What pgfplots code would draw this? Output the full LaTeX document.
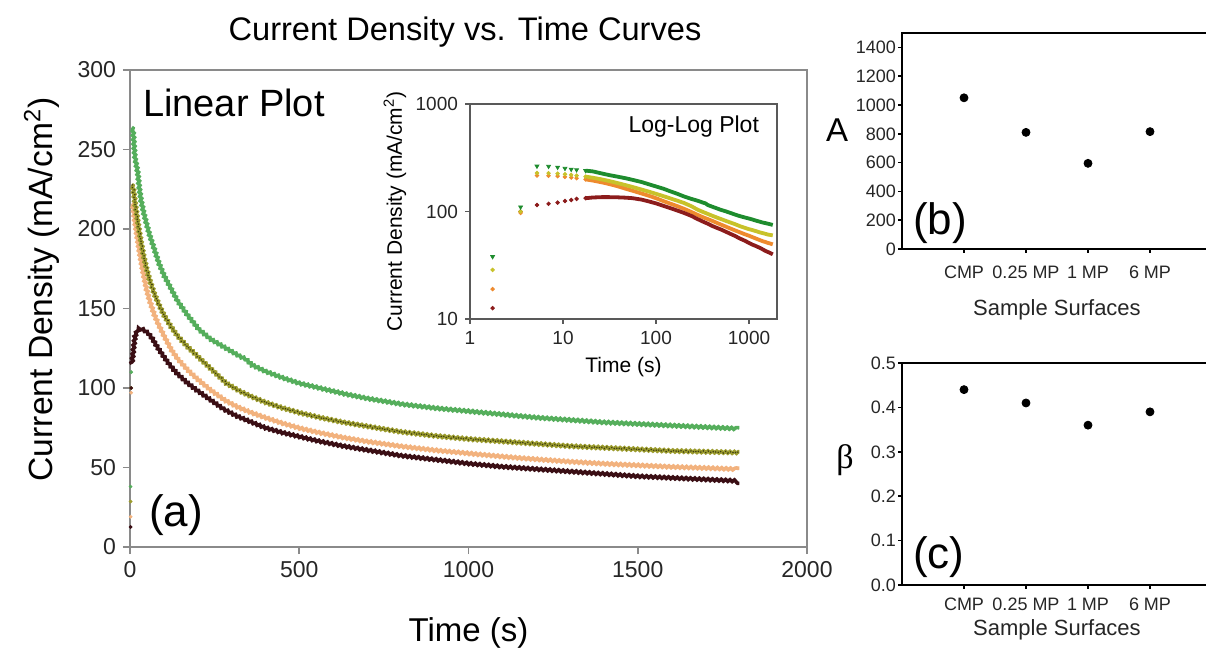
\documentclass[border=0pt]{standalone}
\usepackage{pgfplots}
\pgfplotsset{compat=1.18}
\usepackage{pgfplotstable}
\usepackage{fontspec}
\setmainfont{Liberation Sans}
\newfontfamily\seriffont{Liberation Serif}
\usetikzlibrary{decorations.pathmorphing}

\definecolor{linG}{HTML}{55AE5C}
\definecolor{linY}{HTML}{9C9C2E}
\definecolor{linYd}{HTML}{3C3C12}
\definecolor{linO}{HTML}{F2B27E}
\definecolor{linR}{HTML}{3A0E14}
\definecolor{logG}{HTML}{1E8C2E}
\definecolor{logY}{HTML}{C8C22A}
\definecolor{logO}{HTML}{EE8A2E}
\definecolor{logR}{HTML}{8C1C1C}
\definecolor{framegray}{HTML}{8A8A8A}

\pgfplotstableread{
t v
1.75 38
3.5 110
5.25 264
7 263
8.75 258
10.5 252
12.25 247
14 244
17.5 240
21 236
26 226
31.5 218
38.5 211
47 204
56 197
70 188
84 179
100 171
120 163
140 155
170 146
200 138
240 131
280 126
320 121
340 119
360 115
400 111
450 107
500 103.5
560 100.5
630 97
700 94
800 90.5
900 88
1000 86
1100 84
1200 82
1300 80.5
1400 79
1500 78
1600 77
1700 76
1800 75
}\dataG

\pgfplotstableread{
t v
1.75 28.6
3.5 100
5.25 228
7 227
8.75 225
10.5 222
12.25 219
14 216
17.5 211
21 206
26 199
31.5 192
38.5 184
47 176
56 169
70 160
84 153
100 146
120 139
140 133
170 126
200 120
240 112
280 104
320 99
360 95
400 91.5
450 88
500 85
560 82
630 79
700 76.5
800 73
900 70.5
1000 68.5
1100 67
1200 65.5
1300 64
1400 63
1500 62
1600 61
1700 60.5
1800 60
}\dataY

\pgfplotstableread{
t v
1.75 19
3.5 97
5.25 216
7 215
8.75 213
10.5 210
12.25 207
14 204
17.5 199
21 194
26 187
31.5 180
38.5 172
47 163
56 156
70 147
84 140
100 133
120 125
140 119
170 112
200 106
240 99
280 93
320 88.5
360 85
400 82
450 78.5
500 75.5
560 72.5
630 69.5
700 67
800 64
900 61.5
1000 59.5
1100 57.5
1200 55.8
1300 54.3
1400 53
1500 52
1600 51
1700 50.3
1800 49.5
}\dataO

\pgfplotstableread{
t v
1.75 12.6
3.5 100
5.25 115
7 118
8.75 121
10.5 125
12.25 128
14 131
17.5 133
21 135
26 136
31.5 136
38.5 135.5
47 134.5
56 133
70 129
84 124
100 119
120 113
140 108
170 102
200 97
240 91
280 85
320 80.5
360 77
400 73.5
450 70.5
500 68
560 65
630 62
700 59.5
800 56
900 53.5
1000 51
1100 49
1200 47.5
1300 46
1400 44.5
1500 43
1600 42
1700 41
1800 40
}\dataR

\pgfplotstableread{
x A beta
1 1050 0.44
2 810 0.41
3 595 0.36
4 815 0.39
}\dataBC

\pgfplotsset{
  first/.style={restrict expr to domain={\coordindex}{0:#1}},
  from/.style={restrict expr to domain={\coordindex}{#1:1000}},
  wig/.style={decorate, decoration={snake, amplitude=0.45pt, segment length=2.2pt}},
}

\begin{document}
\begin{tikzpicture}
\useasboundingbox (0,0) rectangle (603pt,325pt);

\node[font=\fontsize{16.3}{18}\selectfont] at (232.5pt,309pt) {Current Density vs. Time Curves};

% ---------------- main linear plot
\begin{axis}[
  at={(65pt,51.5pt)}, anchor=south west,
  scale only axis, width=338.5pt, height=238.5pt,
  xmin=0, xmax=2000, ymin=0, ymax=300,
  xtick={0,500,1000,1500,2000}, ytick={0,50,...,300},
  tick align=outside, xtick pos=bottom, ytick pos=left,
  major tick length=3.5pt,
  axis line style={framegray, line width=0.8pt},
  every tick/.style={framegray, line width=0.8pt},
  ticklabel style={font=\fontsize{11.5}{13}\selectfont, text=black!85},
  /pgf/number format/assume math mode=true,
  scaled ticks=false,
  xticklabel style={/pgf/number format/1000 sep={}},
  xlabel={Time (s)},
  ylabel={Current Density (mA/cm\textsuperscript{2})},
  every axis x label/.style={at={([yshift=-43pt]axis description cs:0.5,0)}, anchor=center, font=\fontsize{16.5}{18}\selectfont},
  every axis y label/.style={at={([xshift=-44pt]axis description cs:0,0.54)}, anchor=center, rotate=90, font=\fontsize{16.8}{18}\selectfont},
  clip=false,
]
\addplot[only marks, mark=*, mark size=0.7pt, linG, first=1] table[x=t,y=v] {\dataG};
\addplot[only marks, mark=*, mark size=0.7pt, linY, first=1] table[x=t,y=v] {\dataY};
\addplot[only marks, mark=*, mark size=0.7pt, linO, first=1] table[x=t,y=v] {\dataO};
\addplot[only marks, mark=*, mark size=0.7pt, linR, first=1] table[x=t,y=v] {\dataR};
\addplot[linG, line width=1.8pt, from=2, wig] table[x=t,y=v] {\dataG};
\addplot[linO, line width=1.8pt, from=2, wig] table[x=t,y=v] {\dataO};
\addplot[linY, line width=1.8pt, from=2, wig] table[x=t,y=v] {\dataY};
\addplot[linYd, line width=0.6pt, densely dotted, from=2, wig] table[x=t,y=v] {\dataY};
\addplot[linR, line width=1.8pt, from=2, wig] table[x=t,y=v] {\dataR};
\end{axis}

\node[anchor=west, font=\fontsize{19}{21}\selectfont] at (68pt,273.5pt) {Linear Plot};
\node[anchor=west, font=\fontsize{22}{24}\selectfont] at (71pt,67.5pt) {(a)};

% ---------------- inset log-log plot
\begin{axis}[
  at={(235pt,165.5pt)}, anchor=south west,
  scale only axis, width=153.5pt, height=107.5pt,
  xmode=log, ymode=log,
  xmin=1, xmax=2000, ymin=10, ymax=1000,
  xtick={1,10,100,1000}, xticklabels={1,10,100,1000},
  ytick={10,100,1000}, yticklabels={10,100,1000},
  xminorticks=false, yminorticks=false,
  tick align=outside, xtick pos=bottom, ytick pos=left,
  major tick length=2.5pt,
  axis background/.style={fill=white},
  axis line style={black!65, line width=0.7pt},
  every tick/.style={black!65, line width=0.7pt},
  ticklabel style={font=\fontsize{9.5}{11}\selectfont, text=black!85},
  xlabel={Time (s)},
  ylabel={Current Density (mA/cm\textsuperscript{2})},
  every axis x label/.style={at={([yshift=-24pt]axis description cs:0.5,0)}, anchor=center, font=\fontsize{10.5}{12}\selectfont},
  every axis y label/.style={at={([xshift=-37.5pt]axis description cs:0,0.5)}, anchor=center, rotate=90, font=\fontsize{10.5}{12}\selectfont},
]
\addplot[only marks, mark=*, mark size=0.9pt, logR, first=8] table[x=t,y=v] {\dataR};
\addplot[only marks, mark=*, mark size=0.9pt, logO, first=8] table[x=t,y=v] {\dataO};
\addplot[only marks, mark=*, mark size=0.9pt, logY, first=8] table[x=t,y=v] {\dataY};
\addplot[only marks, mark=triangle*, mark size=1.1pt, mark options={rotate=180}, logG, first=8] table[x=t,y=v] {\dataG};
\addplot[logO, line width=1.9pt, from=8] table[x=t,y=v] {\dataO};
\addplot[logY, line width=1.9pt, from=8] table[x=t,y=v] {\dataY};
\addplot[logR, line width=1.9pt, from=8] table[x=t,y=v] {\dataR};
\addplot[logG, line width=1.9pt, from=8] table[x=t,y=v] {\dataG};
\end{axis}
\node[anchor=east, font=\fontsize{11.5}{13}\selectfont] at (383pt,261.5pt) {Log-Log Plot};

% ---------------- panel (b)
\begin{axis}[
  at={(451pt,200.5pt)}, anchor=south west,
  scale only axis, width=155pt, height=108pt,
  xmin=0, xmax=5, ymin=0, ymax=1500,
  xtick={1,2,3,4}, xticklabels={CMP,0.25 MP,1 MP,6 MP},
  ytick={0,200,...,1400},
  tick align=outside, xtick pos=bottom, ytick pos=left,
  major tick length=1.8pt,
  axis line style={black, line width=1.1pt},
  every tick/.style={black, line width=0.8pt},
  ticklabel style={font=\fontsize{9}{10}\selectfont, text=black!85},
  /pgf/number format/assume math mode=true,
  scaled ticks=false,
  yticklabel style={/pgf/number format/1000 sep={}, inner sep=1pt},
  xticklabel style={yshift=-3pt},
  xlabel={Sample Surfaces},
  every axis x label/.style={at={([yshift=-30.5pt]axis description cs:0.5,0)}, anchor=center, font=\fontsize{11}{12}\selectfont, text=black!85},
  clip=false,
]
\addplot[only marks, mark=*, mark size=2pt, black] table[x=x,y=A] {\dataBC};
\end{axis}
\node[font=\fontsize{16.5}{18}\selectfont] at (418.5pt,260pt) {A};
\node[anchor=west, font=\fontsize{22}{24}\selectfont] at (453pt,213.5pt) {(b)};

% ---------------- panel (c)
\begin{axis}[
  at={(451pt,32.5pt)}, anchor=south west,
  scale only axis, width=155pt, height=111pt,
  xmin=0, xmax=5, ymin=0, ymax=0.5,
  xtick={1,2,3,4}, xticklabels={CMP,0.25 MP,1 MP,6 MP},
  ytick={0,0.1,...,0.5},
  tick align=outside, xtick pos=bottom, ytick pos=left,
  major tick length=1.8pt,
  axis line style={black, line width=1.1pt},
  every tick/.style={black, line width=0.8pt},
  ticklabel style={font=\fontsize{9}{10}\selectfont, text=black!85},
  /pgf/number format/assume math mode=true,
  yticklabel style={/pgf/number format/.cd, fixed, fixed zerofill, precision=1, /tikz/.cd, inner sep=1pt},
  xticklabel style={yshift=-1pt},
  xlabel={Sample Surfaces},
  every axis x label/.style={at={([yshift=-22.5pt]axis description cs:0.5,0)}, anchor=center, font=\fontsize{11}{12}\selectfont, text=black!85},
  clip=false,
]
\addplot[only marks, mark=*, mark size=2pt, black] table[x=x,y=beta] {\dataBC};
\end{axis}
\node[font=\fontsize{17}{18}\selectfont\seriffont] at (422.5pt,95pt) {β};
\node[anchor=west, font=\fontsize{22}{24}\selectfont] at (453pt,46.5pt) {(c)};

\end{tikzpicture}
\end{document}
